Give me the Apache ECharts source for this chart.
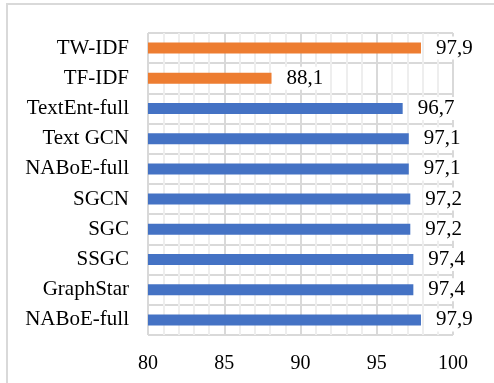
<!DOCTYPE html>
<html>
<head>
<meta charset="utf-8">
<script src="https://cdn.jsdelivr.net/npm/echarts@6/dist/echarts.min.js"></script>
<style>
  html, body { margin: 0; padding: 0; background: #fff; overflow: hidden; }
  #wrap { position: relative; width: 494px; height: 383px; overflow: hidden; }
  #chart { width: 494px; height: 383px; }
  #frame { position: absolute; left: 6px; top: 3px; width: 520px; height: 420px;
           border: 2px solid #d9d9d9; pointer-events: none; }
</style>
</head>
<body>
<div id="wrap">
  <div id="chart"></div>
  <div id="frame"></div>
</div>
<script>
// Methods listed top to bottom, with their accuracy (%)
const methods = ['TW-IDF', 'TF-IDF', 'TextEnt-full', 'Text GCN', 'NABoE-full',
                 'SGCN', 'SGC', 'SSGC', 'GraphStar', 'NABoE-full'];
const accuracy = [97.9, 88.1, 96.7, 97.1, 97.1, 97.2, 97.2, 97.4, 97.4, 97.9];
// Which methods are the term-weighting baselines (drawn in orange)
const isTermWeighting = [true, true, false, false, false, false, false, false, false, false];
const xTicks = [80, 85, 90, 95, 100];

const ORANGE = '#ED7D31';
const BLUE = '#4472C4';
const FONT = "'Liberation Serif', 'Times New Roman', serif";

const barData = accuracy.map((v, i) => ({
  value: v,
  itemStyle: { color: isTermWeighting[i] ? ORANGE : BLUE }
}));

const chart = echarts.init(document.getElementById('chart'), null, { renderer: 'canvas' });
chart.setOption({
  animation: false,
  grid: { left: 148, top: 33, right: 41, bottom: 48, containLabel: false },
  xAxis: {
    type: 'value',
    min: xTicks[0],
    max: xTicks[xTicks.length - 1],
    interval: 5,
    axisLine: { show: false },
    axisTick: { show: false },
    axisLabel: { color: '#000', fontFamily: FONT, fontSize: 20, margin: 19 },
    splitLine: { show: true, lineStyle: { color: '#d9d9d9', width: 2 } },
    minorTick: { show: false, splitNumber: 5 },
    minorSplitLine: { show: true, lineStyle: { color: '#eeeeee', width: 2 } }
  },
  yAxis: {
    type: 'category',
    data: methods,
    inverse: true,
    axisLine: { show: false },
    axisTick: { show: false },
    axisLabel: { color: '#000', fontFamily: FONT, fontSize: 21, margin: 19 },
    splitLine: { show: true, lineStyle: { color: '#d9d9d9', width: 2 } }
  },
  series: [{
    type: 'bar',
    data: barData,
    barWidth: 11,
    label: {
      show: true,
      position: 'right',
      distance: 13,
      color: '#000',
      fontFamily: FONT,
      fontSize: 21,
      backgroundColor: '#fff',
      padding: [1, 2],
      formatter: p => p.value.toFixed(1).replace('.', ',')
    }
  }]
});
</script>
</body>
</html>
